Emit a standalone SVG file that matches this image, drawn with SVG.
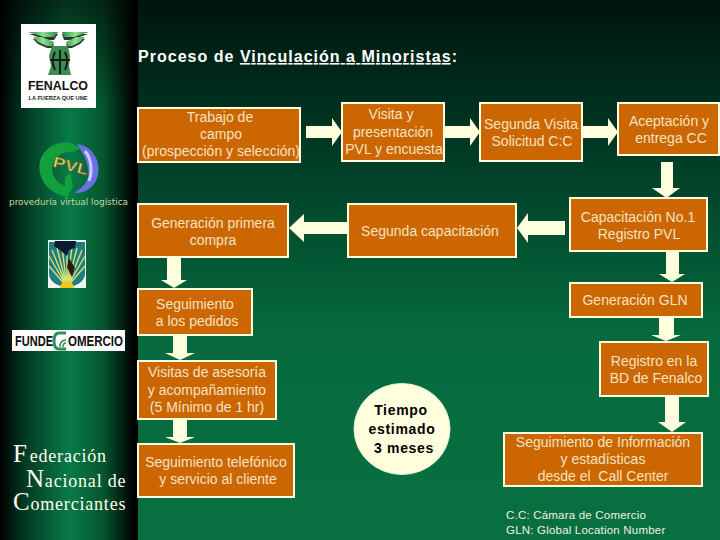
<svg xmlns="http://www.w3.org/2000/svg" width="720" height="540" viewBox="0 0 720 540">
<style>
.b{fill:#cc6600;stroke:#fffde0;stroke-width:2}
.t{font-family:"Liberation Sans",Arial,sans-serif;font-size:14px;fill:#f2e4c0;text-anchor:middle}
.a{fill:#ffffdd}
.s{font-family:"Liberation Serif","Times New Roman",serif;font-size:18px;fill:#fffff0;letter-spacing:.8px}
.k{font-size:25px}
.c{font-family:"Liberation Sans",Arial,sans-serif;font-size:14px;font-weight:bold;fill:#000;text-anchor:middle;letter-spacing:.7px}
.n{font-family:"Liberation Sans",Arial,sans-serif;font-size:11.5px;fill:#f0f0e0;letter-spacing:.2px}
</style>
<defs>
<linearGradient id="bg" x1="0" y1="0" x2="0" y2="1"><stop offset="0" stop-color="#00140f"/><stop offset=".2" stop-color="#00301f"/><stop offset=".62" stop-color="#066a3e"/><stop offset="1" stop-color="#087040"/></linearGradient>
<linearGradient id="side" x1="0" y1="0" x2="1" y2="0"><stop offset="0" stop-color="#000"/><stop offset=".18" stop-color="#023a22"/><stop offset=".5" stop-color="#087a48"/><stop offset=".75" stop-color="#05562f"/><stop offset=".97" stop-color="#000"/><stop offset="1" stop-color="#000"/></linearGradient>
<linearGradient id="fade" x1="0" y1="0" x2="0" y2="1"><stop offset="0" stop-color="#000" stop-opacity=".6"/><stop offset=".2" stop-color="#000" stop-opacity="0"/></linearGradient>
<linearGradient id="wing" x1="0" y1="0" x2="1" y2="0"><stop offset="0" stop-color="#1e8c3c"/><stop offset=".5" stop-color="#8fe08f"/><stop offset="1" stop-color="#1e8c3c"/></linearGradient>
</defs>
<rect width="720" height="540" fill="url(#bg)"/>
<rect width="138" height="540" fill="url(#side)"/>
<rect width="138" height="540" fill="url(#fade)"/>

<g id="logo-fenalco">
<rect x="21" y="24" width="75" height="84" fill="#fff"/>
<path d="M29 34H58L54 40H42L54 44 52 48H47L38 44 33 39H44Z" fill="#333"/>
<path d="M88 34H62L64 40H76L66 44 68 48H72L80 44 85 39H74Z" fill="#333"/>
<path d="M28 32H58L54 37H42L54 42 52 46H47L38 42 33 37H44Z" fill="url(#wing)"/>
<path d="M89 32H62L64 37H76L66 42 68 46H72L80 42 85 37H74Z" fill="url(#wing)"/>
<path d="M52 46H68L70 56 69 66 71 75H48L51 66 49 56Z" fill="#3a8f50"/>
<path d="M55 52C52 58 52 64 55 70M65 52C68 58 68 64 65 70M60 50V74M50 60H70" stroke="#1a1a1a" stroke-width="2" fill="none"/>
<text x="58" y="90" font-family="Liberation Sans,Arial,sans-serif" font-size="12" font-weight="bold" fill="#111" text-anchor="middle" textLength="60" lengthAdjust="spacingAndGlyphs">FENALCO</text>
<text x="58" y="100" font-family="Liberation Sans,Arial,sans-serif" font-size="6" font-weight="bold" fill="#222" text-anchor="middle" textLength="59" lengthAdjust="spacingAndGlyphs">LA FUERZA QUE UNE</text>
</g>

<g id="logo-pvl">
<path d="M65 196C42 192 36 170 41 158 46 147 58 141 70 143 74 144 77 146 80 148L74 152C62 150 52 158 52 170 53 178 58 183 65 186L65 178 70 172 73 186 66 200Z" fill="#12a03c"/>
<path d="M77 144C92 146 101 160 98 175 95 188 84 194 74 193 86 186 90 178 88 168 86 158 82 152 77 144Z" fill="#6a70e0"/>
<path d="M85 151C91 158 93 170 89 181" stroke="#c8ccff" stroke-width="3" fill="none"/>
<text x="71" y="171" transform="rotate(14 71 165)" font-family="Liberation Sans,Arial,sans-serif" font-size="15" font-weight="bold" fill="#e6d24a" text-anchor="middle" stroke="#554" stroke-width=".5" textLength="36" lengthAdjust="spacingAndGlyphs">PVL</text>
<text x="68.500" y="205" font-family="DejaVu Sans,sans-serif" font-size="8" fill="#c8d8a0" text-anchor="middle" textLength="119" lengthAdjust="spacingAndGlyphs">proveduría virtual logística</text>
</g>

<g id="logo-globo">
<rect x="48" y="240" width="38" height="48" fill="#f4f4ea"/>
<path d="M49 242H85V274C85 281 76 287 67 287 58 287 49 281 49 274Z" fill="#1f7f80"/>
<path d="M67 287L49 256M67 287L52 250M67 287L57 248M67 287L62 247M67 287L67 247M67 287L72 247M67 287L77 248M67 287L82 250M67 287L85 256M67 287L85 266M67 287L49 266" stroke="#d8e070" stroke-width="1.400"/>
<path d="M55 241H76L75 248 69 250 67 256 60 250 54 246Z" fill="#0a1a30"/>
<path d="M69 258L75 268 72 277 67 267Z" fill="#2a1a10"/>
<path d="M60 288A7 7 0 0 1 74 288Z" fill="#f0c820"/>
</g>

<g id="logo-fundecomercio">
<rect x="12" y="330" width="113" height="21" fill="#fff"/>
<text x="15" y="346" font-family="Liberation Sans,Arial,sans-serif" font-size="14" font-weight="bold" fill="#111" textLength="38" lengthAdjust="spacingAndGlyphs">FUNDE</text>
<path d="M66 333H59C55 333 54 336 54 341 54 346 55 349 59 349H66" fill="none" stroke="#2f8f5a" stroke-width="3"/>
<path d="M60 347C60 342 62 340 66 340M63 347C63 344 64 343 66 343" fill="none" stroke="#2f8f5a" stroke-width="1.500"/>
<text x="68" y="346" font-family="Liberation Sans,Arial,sans-serif" font-size="14" font-weight="bold" fill="#111" textLength="55" lengthAdjust="spacingAndGlyphs">OMERCIO</text>
</g>

<g id="federacion">
<text class="s" x="13" y="462"><tspan class="k">F</tspan><tspan dx="2">ederación</tspan></text>
<text class="s" x="26" y="487"><tspan class="k">N</tspan><tspan>acional de</tspan></text>
<text class="s" x="13" y="510"><tspan class="k">C</tspan><tspan>omerciantes</tspan></text>
</g>

<g id="titulo">
<text x="138" y="62" font-family="Liberation Sans,Arial,sans-serif" font-size="16" font-weight="bold" fill="#fff" textLength="319" lengthAdjust="spacing">Proceso de <tspan text-decoration="underline">Vinculación a Minoristas</tspan>:</text>
</g>

<g id="connectors">
<path class="a" d="M306 126H332V118L342 132 332 146V138H306Z"/>
<path class="a" d="M445 126H470V118L480 132 470 146V138H445Z"/>
<path class="a" d="M583 126H608V118L618 132 608 146V138H583Z"/>
<path class="a" d="M661 162H673V188H680L666.500 198 652 188H661Z"/>
<path class="a" d="M565 221H528V213L517 228 528 243V235H565Z"/>
<path class="a" d="M347 222H304V214L289 228 304 242V234H347Z"/>
<path class="a" d="M167 258H181V280H187L174 288 161 280H167Z"/>
<path class="a" d="M173 336H187V353H195L180 360 165 353H173Z"/>
<path class="a" d="M173 420H187V437H195L180 443 165 437H173Z"/>
<path class="a" d="M666 252H679V274H685L672 282 659 274H666Z"/>
<path class="a" d="M659 318H674V335H681L666 341 651 335H659Z"/>
<path class="a" d="M665 397H679V422H686L672 432 658 422H665Z"/>
</g>

<g id="n-trabajo"><rect class="b" x="138" y="108" width="162" height="54"/><text class="t" x="220" y="122">Trabajo de</text><text class="t" x="221" y="139">campo</text><text class="t" x="221" y="156">(prospección y selección)</text></g>
<g id="n-visita"><rect class="b" x="342" y="103" width="102" height="58"/><text class="t" x="391" y="119">Visita y</text><text class="t" x="393" y="137">presentación</text><text class="t" x="394" y="154">PVL y encuesta</text></g>
<g id="n-segunda-visita"><rect class="b" x="480" y="103" width="102" height="58"/><text class="t" x="531" y="129">Segunda Visita</text><text class="t" x="532" y="146">Solicitud C:C</text></g>
<g id="n-aceptacion"><rect class="b" x="618" y="103" width="101" height="52"/><text class="t" x="669" y="126">Aceptación y</text><text class="t" x="671" y="143">entrega CC</text></g>
<g id="n-capacitacion"><rect class="b" x="570" y="198" width="137" height="53"/><text class="t" x="638" y="222">Capacitación No.1</text><text class="t" x="639" y="239">Registro PVL</text></g>
<g id="n-segunda-capacitacion"><rect class="b" x="348" y="204" width="168" height="53"/><text class="t" x="430" y="236">Segunda capacitación</text></g>
<g id="n-generacion"><rect class="b" x="138" y="204" width="150" height="53"/><text class="t" x="213" y="228">Generación primera</text><text class="t" x="213" y="245">compra</text></g>
<g id="n-seguimiento"><rect class="b" x="138" y="289" width="114" height="46"/><text class="t" x="195" y="309">Seguimiento</text><text class="t" x="197" y="326">a los pedidos</text></g>
<g id="n-visitas"><rect class="b" x="138" y="361" width="138" height="58"/><text class="t" x="207" y="377">Visitas de asesoría</text><text class="t" x="207" y="395">y acompañamiento</text><text class="t" x="207" y="412">(5 Mínimo de 1 hr)</text></g>
<g id="n-telefonico"><rect class="b" x="138" y="444" width="156" height="53"/><text class="t" x="216" y="467">Seguimiento telefónico</text><text class="t" x="218" y="484">y servicio al cliente</text></g>
<g id="n-gln"><rect class="b" x="570" y="283" width="132" height="34"/><text class="t" x="635" y="305">Generación GLN</text></g>
<g id="n-registro"><rect class="b" x="600" y="342" width="108" height="54"/><text class="t" x="654" y="366">Registro en la</text><text class="t" x="656" y="383">BD de Fenalco</text></g>
<g id="n-seguimiento-info"><rect class="b" x="504" y="433" width="198" height="53"/><text class="t" x="603" y="447">Seguimiento de Información</text><text class="t" x="603" y="464">y estadísticas</text><text class="t" x="603" y="481" xml:space="preserve">desde el  Call Center</text></g>

<g id="n-tiempo"><ellipse cx="402" cy="429" rx="48" ry="45.500" fill="#ffffdd" stroke="#d8f0d0"/><text class="c" x="401" y="415">Tiempo</text><text class="c" x="402" y="434">estimado</text><text class="c" x="404" y="453">3 meses</text></g>

<g id="notas"><text class="n" x="506" y="519">C.C: Cámara de Comercio</text><text class="n" x="506" y="534">GLN: Global Location Number</text></g>
</svg>
